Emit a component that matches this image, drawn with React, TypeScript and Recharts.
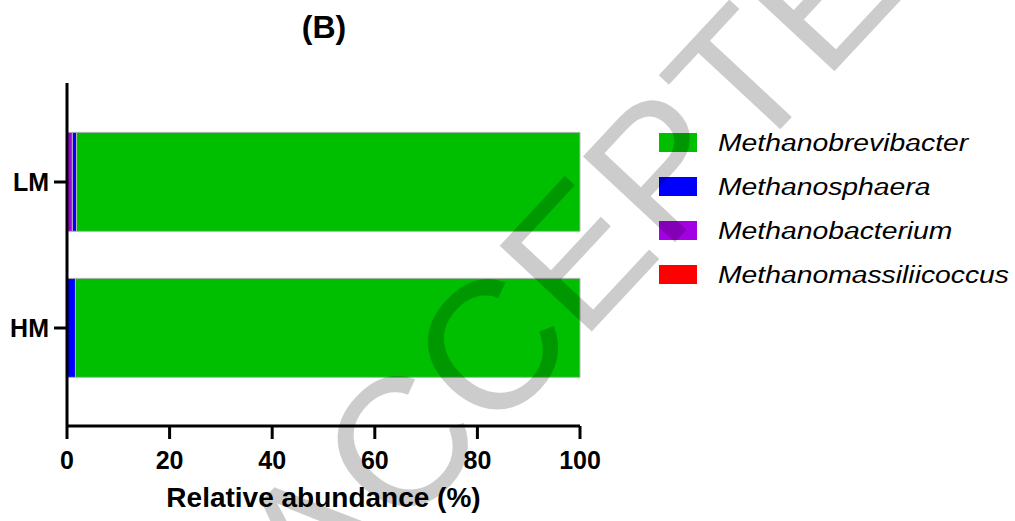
import React from 'react';
import { BarChart, Bar, XAxis, YAxis } from 'recharts';

// relative abundance (%) of each methanogen genus per group
const groups = ['LM', 'HM'];
const methanobrevibacter = [98.15, 98.35];
const methanosphaera = [0.8, 1.55];
const methanobacterium = [1.0, 0.08];
const methanomassiliicoccus = [0.05, 0.02];
const xTicks = [0, 20, 40, 60, 80, 100];

const genera = [
  { name: 'Methanobrevibacter', values: methanobrevibacter, color: '#00BF00' },
  { name: 'Methanosphaera', values: methanosphaera, color: '#0000FF' },
  { name: 'Methanobacterium', values: methanobacterium, color: '#A400E4' },
  { name: 'Methanomassiliicoccus', values: methanomassiliicoccus, color: '#FF0000' },
];

// bars are stacked from the axis outwards in reverse legend order
const stackOrder = [...genera].reverse();

const data = groups.map((group, i) => {
  const row: Record<string, string | number> = { group };
  genera.forEach((g) => {
    row[g.name] = g.values[i];
  });
  return row;
});

const FONT = '"Liberation Sans", Arial, sans-serif';
const W = 1015;
const H = 521;

const axisStroke = { stroke: '#000', strokeWidth: 3 };
const tickFont = { fill: '#000', fontSize: 25, fontWeight: 700, fontFamily: FONT };

export default function App() {
  return (
    <div style={{ position: 'absolute', left: 0, top: 0, width: W, height: H, background: '#fff' }}>
      <BarChart
        width={W}
        height={H}
        data={data}
        layout="vertical"
        margin={{ top: 83, right: 435, bottom: 0, left: 0 }}
        barCategoryGap="16%"
      >
        <XAxis
          type="number"
          domain={[0, 100]}
          ticks={xTicks}
          interval={0}
          height={95}
          axisLine={axisStroke}
          tickLine={axisStroke}
          tickSize={13}
          tickMargin={12}
          tick={tickFont}
          label={{
            value: 'Relative abundance (%)',
            position: 'insideBottom',
            offset: 14,
            fill: '#000',
            fontSize: 28,
            fontWeight: 700,
            fontFamily: FONT,
          }}
        />
        <YAxis
          type="category"
          dataKey="group"
          width={67}
          padding={{ top: 26, bottom: 25 }}
          axisLine={axisStroke}
          tickLine={axisStroke}
          tickSize={13}
          tickMargin={5}
          tick={tickFont}
        />
        {stackOrder.map((g) => (
          <Bar
            key={g.name}
            dataKey={g.name}
            stackId="a"
            fill={g.color}
            stroke="#b4b4b4"
            strokeWidth={1}
            isAnimationActive={false}
          />
        ))}
      </BarChart>

      {/* title and legend */}
      <svg width={W} height={H} style={{ position: 'absolute', left: 0, top: 0, pointerEvents: 'none' }}>
        <text x={324} y={38} textAnchor="middle" fontFamily={FONT} fontWeight={700} fontSize={32} fill="#000">
          (B)
        </text>
        {genera.map((g, i) => {
          const cy = 142.5 + i * 44;
          return (
            <g key={g.name}>
              <rect x={659} y={cy - 9.5} width={38} height={19} fill={g.color} />
              <text
                transform={`translate(718, ${cy + 8.6}) scale(1.18, 1)`}
                fontFamily={FONT}
                fontStyle="italic"
                fontSize={24}
                fill="#000"
              >
                {g.name}
              </text>
            </g>
          );
        })}
      </svg>

      {/* watermark */}
      <svg width={W} height={H} style={{ position: 'absolute', left: 0, top: 0, pointerEvents: 'none' }}>
        <text
          transform="translate(318, 625) rotate(-47)"
          fontFamily={FONT}
          fontSize={183}
          fill="#000"
          fillOpacity={0.2}
        >
          ACCEPTED
        </text>
      </svg>
    </div>
  );
}
